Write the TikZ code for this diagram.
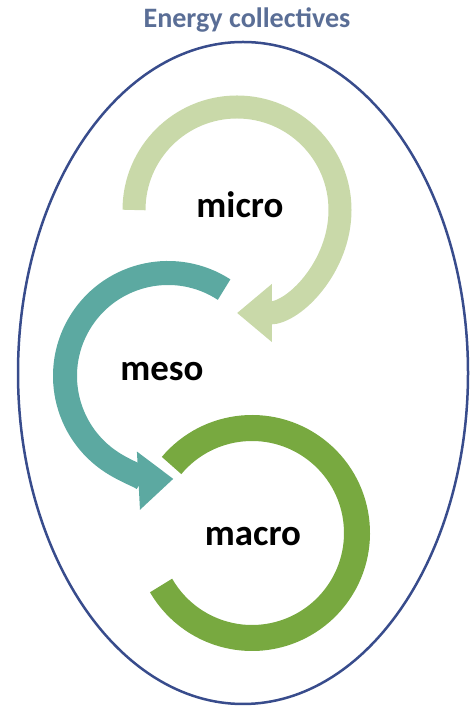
\documentclass[tikz,border=0pt]{standalone}
\usepackage{fontspec}
\setmainfont{Carlito}
\usetikzlibrary{arrows.meta}
\definecolor{ringblue}{HTML}{384C8C}
\definecolor{titleblue}{HTML}{5A6E96}
\definecolor{microgreen}{HTML}{C9D9A9}
\definecolor{mesoteal}{HTML}{5CA9A1}
\definecolor{macrogreen}{HTML}{78A940}
\begin{document}
\begin{tikzpicture}[x=0.02cm, y=0.02cm,
    ring/.style={draw=ringblue, line width=0.05cm},
    looparc/.style={line width=#1*0.02cm},
    looptip/.style={-{Triangle[length=0.7cm, width=1.12cm]}},
    levellabel/.style={font=\bfseries\fontsize{21}{25}\selectfont, text=black},
    titlelabel/.style={font=\bfseries\fontsize{16}{19}\selectfont, text=titleblue}]
    \useasboundingbox (0,0) rectangle (471,709);
    % outer frame
    \node [titlelabel] (title) at (247,689) {Energy collectives};
    \draw [ring] (243,336) ellipse [x radius=225, y radius=331];
    % three loops
    \draw [looparc=23, microgreen, looptip] (237,499) ++(180:103)
        arc [start angle=180, end angle=-90, radius=103];
    \draw [looparc=24, mesoteal, looptip] (168,333) ++(57:103)
        arc [start angle=57, end angle=273, radius=103];
    \draw [looparc=26, macrogreen] (252,176) ++(140:105)
        arc [start angle=140, end angle=-150, radius=105];
    % labels
    \node [levellabel] (micro) at (240,504) {micro};
    \node [levellabel] (meso) at (162,337) {meso};
    \node [levellabel] (macro) at (253,172) {macro};
\end{tikzpicture}
\end{document}
